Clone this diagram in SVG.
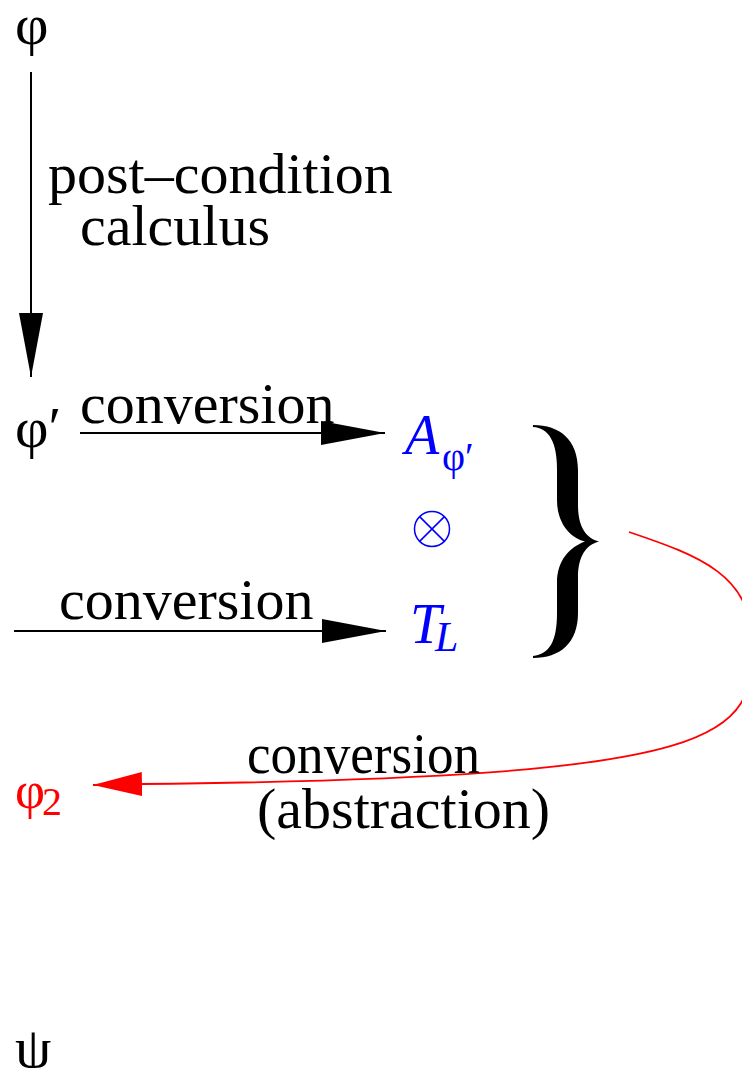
<svg xmlns="http://www.w3.org/2000/svg" width="742" height="1068" viewBox="0 0 742 1068">
<style>
text{font-family:"Liberation Serif","Times New Roman",serif;fill:#000}
.lbl{font-size:58px}
.sym{font-size:58px}
.blue{fill:#0000ff}
.red{fill:#ff0000}
.it{font-style:italic}
.edge{fill:none;stroke:#000;stroke-width:2}
.redge{fill:none;stroke:#ff0000;stroke-width:1.8}
</style>
<defs>
<marker id="ah" markerUnits="userSpaceOnUse" markerWidth="64" markerHeight="24" refX="64" refY="12" orient="auto" viewBox="0 0 64 24">
<path d="M0,0 L64,12 L0,24 Z" fill="#000"/>
</marker>
<marker id="ahr" markerUnits="userSpaceOnUse" markerWidth="49" markerHeight="24" refX="49" refY="12" orient="auto" viewBox="0 0 49 24">
<path d="M0,0 L49,12 L0,24 Z" fill="#ff0000"/>
</marker>
</defs>
<rect width="742" height="1068" fill="#fff"/>
<g id="connectors">
<path class="edge" d="M31,72 L31,377" marker-end="url(#ah)"/>
<path class="edge" d="M80,433 L385,433" marker-end="url(#ah)"/>
<path class="edge" d="M14,631 L386,631" marker-end="url(#ah)"/>
<path class="redge" d="M629,532 C700,556 752,575 752,644 C752,735 740,778 142,784 L93,785" marker-end="url(#ahr)"/>
<text class="lbl" x="48" y="193">post–condition</text>
<text class="lbl" x="80" y="245">calculus</text>
<text class="lbl" x="80" y="423">conversion</text>
<text class="lbl" x="59" y="619">conversion</text>
<text class="lbl" x="247" y="773" textLength="233" lengthAdjust="spacingAndGlyphs" style="font-size:56px">conversion</text>
<text class="lbl" x="257" y="828">(abstraction)</text>
</g>
<g id="node-phi"><text class="sym" x="15" y="44">φ</text></g>
<g id="node-phiprime"><text class="sym" x="15" y="447">φ′</text></g>
<g id="node-A"><text class="blue it" x="405" y="454" style="font-size:56px">A</text><text class="blue" x="442" y="470" style="font-size:40px">φ′</text></g>
<g id="node-otimes"><circle cx="432" cy="529" r="17.5" fill="none" stroke="#0000ff" stroke-width="1.5"/><path d="M419.6,516.6 L444.4,541.4 M444.4,516.6 L419.6,541.4" stroke="#0000ff" stroke-width="1.5"/></g>
<g id="node-T"><text class="blue it" x="410" y="643" style="font-size:56px">T</text><text class="blue it" x="435" y="651" style="font-size:42px">L</text></g>
<g id="node-brace"><path d="M533,425 C560,425 578,440 578,470 L578,505 C578,527 586,538 599,541.5 C586,545 578,556 578,578 L578,613 C578,643 560,658 533,658 L533,656 C549,654 557,642 557,613 L557,583 C557,560 570,547 585,541.5 C570,538 557,523 557,500 L557,470 C557,442 549,428 533,427 Z" fill="#000"/></g>
<g id="node-phi2"><text class="red" x="15" y="808" style="font-size:52px">φ</text><text class="red" x="42" y="815" style="font-size:40px">2</text></g>
<g id="node-psi"><text class="sym" x="15" y="1067">ψ</text></g>
</svg>
